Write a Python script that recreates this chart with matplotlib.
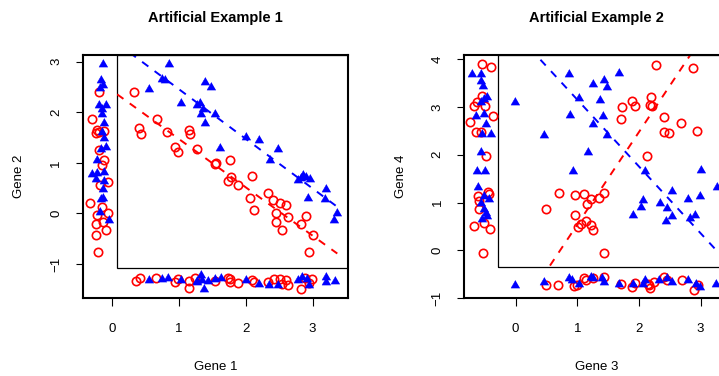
import matplotlib
matplotlib.use('Agg')
import matplotlib.pyplot as plt
from matplotlib.patches import Rectangle
import numpy as np

plt.rcParams['font.family'] = ['Liberation Sans', 'DejaVu Sans']

# ---- panel 1: Gene 1 vs Gene 2 ----
g1_red = [0.33, 0.67, 0.41, 0.43, 0.82, 1.16, 1.17, 0.94, 0.99, 1.27, 1.54, 1.55, 1.76, 1.78, 1.73,
          1.88, 2.10, 2.06, 2.13, 2.34, 2.41, 2.52, 2.60, 2.46, 2.64, 2.46, 2.54, 2.90, 2.83, 3.00, 2.94,
          -0.19, -0.29, -0.22, -0.23, -0.19, -0.12, -0.19, -0.12, -0.14, -0.05, -0.17, -0.32, -0.22,
          -0.14, -0.05, -0.23, -0.13, -0.09, -0.23, -0.21,
          0.36, 0.42, 0.66, 0.94, 0.99, 1.16, 1.16, 1.25, 1.54, 1.73, 1.77, 1.77, 1.88, 2.10, 2.12,
          2.34, 2.42, 2.52, 2.60, 2.64, 2.83, 2.89, 2.99, 2.94, 2.54]
g2_red = [2.40, 1.86, 1.68, 1.56, 1.61, 1.64, 1.56, 1.32, 1.22, 1.27, 0.97, 0.99, 1.06, 0.72, 0.64,
          0.56, 0.73, 0.31, 0.06, 0.41, 0.27, 0.20, 0.16, 0.00, -0.07, -0.17, -0.33, -0.05, -0.20, -0.42, -0.76,
          2.40, 1.86, 1.64, 1.58, 1.61, 1.62, 1.25, 1.05, 0.95, 0.63, 0.57, 0.20, -0.04,
          0.12, 0.00, -0.20, -0.17, -0.33, -0.42, -0.76,
          -1.34, -1.27, -1.28, -1.35, -1.30, -1.34, -1.48, -1.28, -1.34, -1.27, -1.30, -1.36, -1.38, -1.32, -1.36,
          -1.35, -1.30, -1.30, -1.32, -1.41, -1.50, -1.28, -1.30, -1.38, -1.40]
g1_blue = [0.86, 0.55, 0.75, 0.79, 1.03, 1.40, 1.49, 1.27, 1.32, 1.37, 1.33, 1.54, 1.39, 1.62, 2.00,
           2.20, 2.48, 2.36, 2.78, 2.83, 2.90, 2.96, 2.86, 3.20, 2.93, 3.19, 3.36, 3.32,
           -0.13, -0.16, -0.13, -0.17, -0.19, -0.09, -0.14, -0.14, -0.12, -0.14, -0.12, -0.09, -0.16,
           -0.22, -0.29, -0.22, -0.12, -0.24, -0.12, -0.13, -0.16, -0.13, -0.17, -0.04,
           0.55, 0.75, 0.84, 1.03, 1.27, 1.33, 1.35, 1.38, 1.44, 1.54, 1.63, 2.00, 2.20, 2.35, 2.48,
           2.78, 2.84, 2.91, 2.94, 3.20, 3.20, 3.34, 1.28]
g2_blue = [2.96, 2.45, 2.66, 2.64, 2.19, 2.60, 2.49, 2.14, 2.19, 2.06, 1.97, 1.97, 1.79, 1.29, 1.51,
           1.45, 1.28, 1.06, 0.67, 0.70, 0.72, 0.69, 0.76, 0.49, 0.31, 0.29, 0.01, -0.12,
           2.96, 2.63, 2.53, 2.47, 2.14, 2.15, 2.07, 1.97, 1.78, 1.61, 1.50, 1.31, 1.28,
           1.05, 0.78, 0.80, 0.82, 0.69, 0.65, 0.49, 0.29, 0.30, 0.03, -0.13,
           -1.32, -1.30, -1.28, -1.32, -1.34, -1.21, -1.32, -1.50, -1.34, -1.30, -1.28, -1.32, -1.40, -1.42, -1.41,
           -1.32, -1.25, -1.30, -1.41, -1.25, -1.35, -1.34, -1.35]
# fitted lines (intercept, slope)
fit1_red = (2.43, -0.956)
fit1_blue = (3.44, -0.982)

# ---- panel 2: Gene 3 vs Gene 4 ----
g3_red = [2.27, 2.88, 2.19, 1.88, 1.93, 1.73, 2.18, 2.22, 2.41, 1.71, 2.69, 2.94, 2.41, 2.48, 2.13,
          0.70, 0.49, 0.96, 1.11, 1.23, 1.16, 1.36, 1.43, 0.96, 1.06, 1.02, 1.15, 1.22, 1.25, 1.44,
          -0.54, -0.39, -0.55, -0.63, -0.67, -0.50, -0.37, -0.73, -0.64, -0.56, -0.48, -0.61, -0.45,
          -0.43, -0.59, -0.68, -0.42, -0.51, -0.52, -0.59,
          0.49, 0.69, 0.95, 1.00, 1.11, 1.14, 1.25, 1.44, 1.71, 1.89, 1.94, 2.14, 2.18, 2.25, 2.41,
          2.46, 2.70, 2.90, 2.95, 2.17]
g4_red = [3.89, 3.82, 3.22, 3.13, 3.03, 3.01, 3.04, 3.02, 2.80, 2.74, 2.67, 2.49, 2.47, 2.46, 1.97,
          1.20, 0.86, 1.16, 1.18, 1.07, 0.97, 1.10, 1.20, 0.74, 0.56, 0.48, 0.62, 0.53, 0.43, -0.05,
          3.90, 3.83, 3.24, 3.10, 3.03, 3.03, 2.81, 2.68, 2.47, 2.47, 1.98, 1.14, 1.21,
          1.18, 0.86, 0.51, 0.44, 0.58, -0.05, 1.04,
          -0.73, -0.73, -0.75, -0.73, -0.59, -0.63, -0.59, -0.57, -0.70, -0.77, -0.69, -0.71, -0.80, -0.66, -0.56,
          -0.63, -0.63, -0.84, -0.73, -0.73]
g3_blue = [-0.01, 0.87, 1.26, 1.44, 1.49, 1.68, 1.03, 1.37, 0.88, 1.42, 1.25, 1.48, 0.46, 1.18, 0.93,
           2.10, 3.00, 3.26, 2.54, 2.06, 2.34, 2.03, 2.79, 2.99, 1.90, 2.45, 2.54, 2.44, 2.91, 2.83,
           -0.70, -0.56, -0.56, -0.52, -0.51, -0.46, -0.56, -0.64, -0.51, -0.48, -0.54, -0.40,
           -0.56, -0.63, -0.50, -0.60, -0.51, -0.43, -0.56, -0.51, -0.46, -0.54, -0.48,
           -0.01, 0.46, 0.87, 0.92, 1.03, 1.22, 1.26, 1.40, 1.44, 1.68, 1.90, 2.10, 2.06, 2.33, 2.45,
           2.54, 2.80, 2.92, 2.99, 3.25]
g4_blue = [3.10, 3.69, 3.48, 3.57, 3.43, 3.71, 3.18, 3.15, 2.84, 2.82, 2.64, 2.42, 2.41, 2.05, 1.67,
           1.67, 1.69, 1.32, 1.25, 1.06, 1.00, 0.90, 1.07, 1.13, 0.74, 0.88, 0.72, 0.62, 0.74, 0.67,
           3.69, 3.69, 3.55, 3.45, 3.17, 3.20, 3.10, 2.82, 2.85, 2.64, 2.43, 2.43,
           2.05, 1.67, 1.67, 1.32, 1.14, 1.07, 1.00, 0.86, 0.72, 0.65, 0.79,
           -0.73, -0.66, -0.59, -0.63, -0.70, -0.56, -0.59, -0.59, -0.66, -0.70, -0.70, -0.62, -0.71, -0.63, -0.59,
           -0.66, -0.63, -0.70, -0.78, -0.71]
fit2_red = (-1.405, 1.94)
fit2_blue = (4.556, -1.40)

# equilateral triangle like R's pch=17
TRI = [(0, 0.577), (-0.5, -0.289), (0.5, -0.289)]


def draw_panel(ax, xr, yr, xb, yb, fits, inner, xlim, ylim, yticks, title, xlab, ylab):
    ax.set_xlim(xlim)
    ax.set_ylim(ylim)
    # inner box separating the margin strips (top/right sit on the frame)
    box = Rectangle((inner[0], inner[1]), xlim[1] - inner[0], ylim[1] - inner[1],
                    fill=False, lw=0.9, ec='black', zorder=1)
    ax.add_patch(box)
    ax.plot(xr, yr, ls='none', marker='o', ms=6, mfc='none', mec='red', mew=1.2, zorder=3)
    ax.plot(xb, yb, ls='none', marker=TRI, ms=7.4, mfc='blue', mec='blue', mew=0.3, zorder=4)
    xmax = max(max(xr), max(xb))
    xs = np.array([inner[0], xmax + 0.01])
    for (a, b), col in zip(fits, ['red', 'blue']):
        ln, = ax.plot(xs, a + b * xs, color=col, lw=1.4, dashes=(4, 4), zorder=2)
        ln.set_clip_path(box)
    ax.set_xticks([0, 1, 2, 3])
    ax.set_yticks(yticks)
    for s in ax.spines.values():
        s.set_linewidth(1.5)
    ax.tick_params(direction='out', length=5.4, width=0.8, labelsize=9.5, pad=12.5)
    ax.tick_params(axis='y', labelrotation=90, pad=9.5)
    for lab in ax.get_yticklabels():
        lab.set_va('center')
    ax.set_title(title, fontweight='bold', fontsize=10.5, y=1.152, va='center', pad=0)
    ax.set_xlabel(xlab, fontsize=9.5)
    ax.xaxis.set_label_coords(0.5, -0.285)
    ax.xaxis.label.set_va('center')
    ax.set_ylabel(ylab, fontsize=9.5)
    ax.yaxis.set_label_coords(-0.24, 0.5)
    ax.yaxis.label.set_va('center')


fig = plt.figure(figsize=(7.19, 3.76), dpi=100)
W, H = 719.0, 376.0
ax1 = fig.add_axes([83 / W, 78 / H, 265 / W, 243 / H])
ax2 = fig.add_axes([464.3 / W, 78 / H, 265 / W, 243 / H])

draw_panel(ax1, g1_red, g2_red, g1_blue, g2_blue, [fit1_red, fit1_blue],
           (0.08, -1.077), (-0.43, 3.53), (-1.67, 3.13), [-1, 0, 1, 2, 3],
           'Artificial Example 1', 'Gene 1', 'Gene 2')
draw_panel(ax2, g3_red, g4_red, g3_blue, g4_blue, [fit2_red, fit2_blue],
           (-0.28, -0.354), (-0.83, 3.465), (-1.0, 4.09), [-1, 0, 1, 2, 3, 4],
           'Artificial Example 2', 'Gene 3', 'Gene 4')

fig.savefig('out.png', dpi=100)
